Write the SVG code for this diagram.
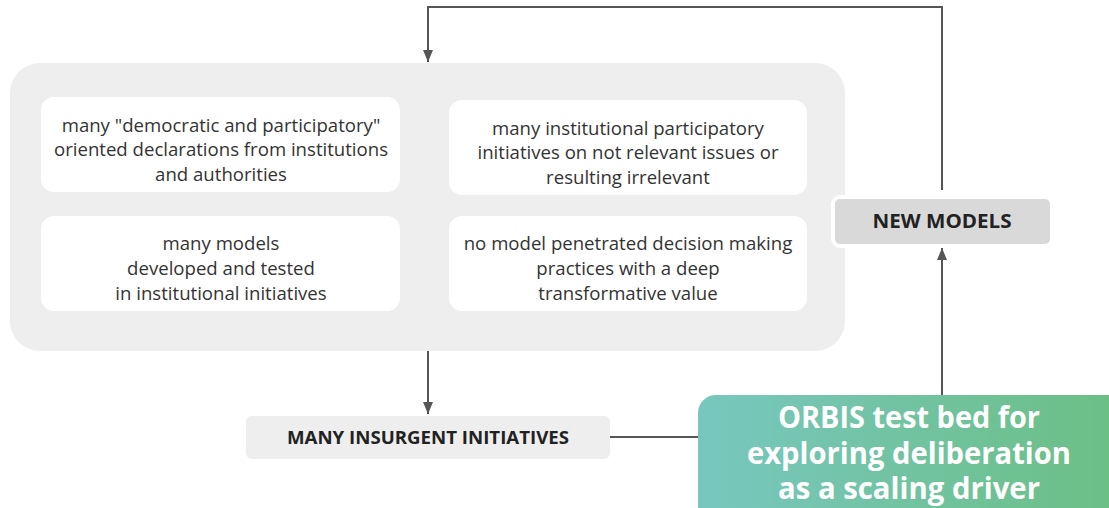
<svg xmlns="http://www.w3.org/2000/svg" width="1109" height="508" viewBox="0 0 1109 508">
<style>
.t{font-family:"Open Sans","Liberation Sans",sans-serif;font-size:18.6px;fill:#333;text-anchor:middle}
.b{font-family:"Open Sans","Liberation Sans",sans-serif;font-weight:700;fill:#222;text-anchor:middle}
.w{font-family:"Open Sans","Liberation Sans",sans-serif;font-weight:700;font-size:30px;fill:#fff;text-anchor:middle}
.c{fill:none;stroke:#555;stroke-width:2}
</style>
<defs>
<marker id="a" viewBox="0 0 12 10" refX="12" refY="5" markerWidth="12" markerHeight="10" orient="auto" markerUnits="userSpaceOnUse"><path d="M0,0L12,5L0,10z" fill="#555"/></marker>
<linearGradient id="g" x1="0" y1="0" x2="1" y2="0"><stop offset="0" stop-color="#78c7bf"/><stop offset="1" stop-color="#6bbf82"/></linearGradient>
</defs>
<g id="container"><rect x="10" y="63" width="835" height="288" rx="30" fill="#eeeeee"/></g>
<g id="connectors">
<path class="c" d="M942,190V7H428V62" marker-end="url(#a)"/>
<path class="c" d="M428,351V414" marker-end="url(#a)"/>
<path class="c" d="M610,437H698"/>
<path class="c" d="M942,395V248" marker-end="url(#a)"/>
</g>
<g id="n1"><rect x="41" y="97" width="359" height="95" rx="13" fill="#fff"/>
<text class="t"><tspan x="221" y="132">many "democratic and participatory"</tspan><tspan x="221" y="156">oriented declarations from institutions</tspan><tspan x="221" y="181">and authorities</tspan></text></g>
<g id="n2"><rect x="449" y="100" width="358" height="95" rx="13" fill="#fff"/>
<text class="t"><tspan x="628" y="135">many institutional participatory</tspan><tspan x="628" y="159">initiatives on not relevant issues or</tspan><tspan x="628" y="184">resulting irrelevant</tspan></text></g>
<g id="n3"><rect x="41" y="216" width="359" height="95" rx="13" fill="#fff"/>
<text class="t"><tspan x="221" y="250">many models</tspan><tspan x="221" y="275">developed and tested</tspan><tspan x="221" y="300">in institutional initiatives</tspan></text></g>
<g id="n4"><rect x="449" y="216" width="358" height="95" rx="13" fill="#fff"/>
<text class="t"><tspan x="628" y="250">no model penetrated decision making</tspan><tspan x="628" y="275">practices with a deep</tspan><tspan x="628" y="300">transformative value</tspan></text></g>
<g id="new-models"><rect x="833" y="197" width="219" height="49" rx="7" fill="#d9d9d9" stroke="#fff" stroke-width="4"/>
<text class="b" x="942" y="228" font-size="20" font-weight="600" textLength="139" lengthAdjust="spacingAndGlyphs">NEW MODELS</text></g>
<g id="insurgent"><rect x="246" y="416" width="364" height="43" rx="6" fill="#eeeeee"/>
<text class="b" x="428" y="444" font-size="17" textLength="282" lengthAdjust="spacingAndGlyphs">MANY INSURGENT INITIATIVES</text></g>
<g id="orbis"><rect x="698" y="395" width="430" height="130" rx="18" fill="url(#g)"/>
<text class="w" x="909" y="428" textLength="262" lengthAdjust="spacingAndGlyphs">ORBIS test bed for</text>
<text class="w" x="909" y="464" textLength="324" lengthAdjust="spacingAndGlyphs">exploring deliberation</text>
<text class="w" x="909" y="499" textLength="262" lengthAdjust="spacingAndGlyphs">as a scaling driver</text></g>
</svg>
